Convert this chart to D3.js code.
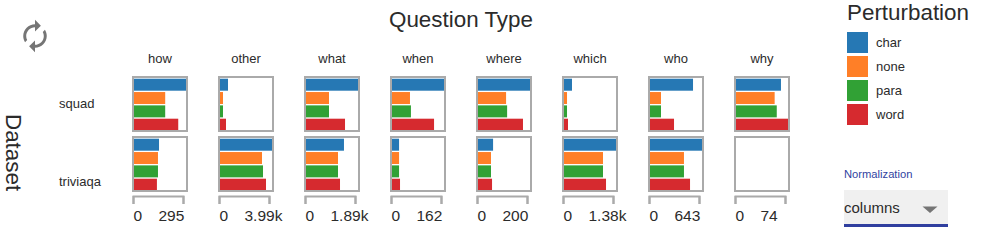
<!DOCTYPE html>
<html>
<head>
<meta charset="utf-8">
<script src="https://cdn.jsdelivr.net/npm/d3@7"></script>
<style>
  html, body { margin: 0; padding: 0; background: #fff; }
  svg { display: block; }
  text { font-family: "Liberation Sans", Arial, sans-serif; fill: #2b2b2b; }
  .axis path, .axis line { stroke: #aaa; stroke-width: 2; fill: none; }
</style>
</head>
<body>
<svg id="chart" width="987" height="240"></svg>
<script>
const questionTypes = ['how', 'other', 'what', 'when', 'where', 'which', 'who', 'why'];
const perturbations = ['char', 'none', 'para', 'word'];
const datasets = ['squad', 'triviaqa'];

// max of each column, and how the tick under it is written
const columnMax = [295, 3990, 1890, 162, 200, 1380, 643, 74];
const tickLabels = ['295', '3.99k', '1.89k', '162', '200', '1.38k', '643', '74'];

// one row per question type, in perturbation order
const squadValues = [
    [295, 177, 177, 251],
    [614, 230, 230, 460],
    [1890, 836, 836, 1418],
    [162, 56, 59, 131],
    [200, 108, 112, 173],
    [212, 80, 80, 106],
    [532, 136, 136, 297],
    [64, 55, 58, 74]
];
const triviaqaValues = [
    [142, 136, 136, 130],
    [3990, 3223, 3300, 3530],
    [1380, 1163, 1163, 1236],
    [22, 22, 22, 25],
    [58, 50, 50, 54],
    [1380, 1035, 1035, 1115],
    [643, 420, 420, 495],
    [0, 0, 0, 0]
];
const valuesByDataset = [squadValues, triviaqaValues];

const svg = d3.select('#chart');
const color = d3.scaleOrdinal(perturbations, ['#2678b4', '#ff7f27', '#31a135', '#d62a2f']);

const colX = d3.scalePoint(questionTypes, [132, 734]);
const rowY = d3.scalePoint(datasets, [76, 136]);
const barY = d3.scaleBand(perturbations, [2.7, 54.7]).paddingInner(0.1);

// Titles
svg.append('text')
    .attr('x', 461).attr('y', 27)
    .attr('text-anchor', 'middle')
    .style('font-size', '22.4px')
    .text('Question Type');

svg.append('text')
    .attr('transform', 'translate(6,114) rotate(90)')
    .style('font-size', '22.4px')
    .text('Dataset');

// Reload icon
svg.append('path')
    .attr('transform', 'translate(35,36) scale(1.47) translate(-12,-12)')
    .attr('fill', '#757575')
    .attr('d', 'M12 6v3l4-4-4-4v3c-4.42 0-8 3.58-8 8 0 1.57.46 3.03 1.24 4.26L6.7 14.8c-.45-.83-.7-1.79-.7-2.8 0-3.31 2.69-6 6-6zm6.76 1.74L17.3 9.2c.44.84.7 1.79.7 2.8 0 3.31-2.69 6-6 6v-3l-4 4 4 4v-3c4.42 0 8-3.58 8-8 0-1.57-.46-3.03-1.24-4.26z');

// Row labels
const rowLabelY = { squad: 108, triviaqa: 186 };
svg.selectAll('.row-label')
    .data(datasets)
    .join('text')
    .attr('class', 'row-label')
    .attr('x', 59)
    .attr('y', d => rowLabelY[d])
    .style('font-size', '13px')
    .text(d => d);

// Columns
questionTypes.forEach((type, i) => {
    const x0 = colX(type);
    const col = svg.append('g').attr('transform', `translate(${x0},0)`);

    col.append('text')
        .attr('x', 28).attr('y', 63)
        .attr('text-anchor', 'middle')
        .style('font-size', '13px')
        .text(type);

    const x = d3.scaleLinear([0, columnMax[i]], [0, 52]);

    datasets.forEach((dataset, r) => {
        const panel = col.append('g').attr('transform', `translate(0,${rowY(dataset)})`);

        panel.selectAll('.bar')
            .data(valuesByDataset[r][i].map((v, k) => ({ key: perturbations[k], value: v })))
            .join('rect')
            .attr('class', 'bar')
            .attr('x', 2)
            .attr('y', d => barY(d.key))
            .attr('width', d => x(d.value))
            .attr('height', barY.bandwidth())
            .attr('fill', d => color(d.key));

        panel.append('rect')
            .attr('x', 1).attr('y', 1)
            .attr('width', 54).attr('height', 54)
            .attr('fill', 'none')
            .attr('stroke', '#aaa')
            .attr('stroke-width', 2);
    });

    // Axis bracket under the column, the labels are placed by hand
    const axisScale = d3.scaleLinear([0, columnMax[i]], [0, 50]);
    const axis = col.append('g')
        .attr('class', 'axis')
        .attr('transform', 'translate(1,196)')
        .call(d3.axisBottom(axisScale)
            .tickValues([0, columnMax[i]])
            .tickSize(8)
            .tickFormat((d, k) => k === 0 ? '0' : tickLabels[i]));

    axis.selectAll('text')
        .attr('text-anchor', 'start')
        .attr('x', (d, k) => k === 0 ? 0 : -25)
        .attr('y', 14)
        .attr('dy', '0.71em')
        .style('font-size', '15.5px')
        .style('font-family', '"Liberation Sans", Arial, sans-serif');
});

// Legend
svg.append('text')
    .attr('x', 847).attr('y', 20)
    .style('font-size', '22.4px')
    .text('Perturbation');

const legendY = d3.scalePoint(perturbations, [32, 104]);
const legend = svg.selectAll('.legend')
    .data(perturbations)
    .join('g')
    .attr('class', 'legend')
    .attr('transform', d => `translate(847,${legendY(d)})`);

legend.append('rect')
    .attr('width', 21).attr('height', 21)
    .attr('fill', d => color(d));

legend.append('text')
    .attr('x', 29).attr('y', 15)
    .style('font-size', '13px')
    .text(d => d);

// Normalization select
svg.append('text')
    .attr('x', 844).attr('y', 178)
    .style('font-size', '11.2px')
    .style('fill', '#303f9f')
    .text('Normalization');

svg.append('rect')
    .attr('x', 844).attr('y', 190)
    .attr('width', 104).attr('height', 34)
    .attr('fill', '#f0f0f0');

svg.append('rect')
    .attr('x', 844).attr('y', 224)
    .attr('width', 104).attr('height', 3)
    .attr('fill', '#303f9f');

svg.append('text')
    .attr('x', 844).attr('y', 213)
    .style('font-size', '15px')
    .text('columns');

svg.append('path')
    .attr('d', 'M922.5,206.5H937.5L930,213Z')
    .attr('fill', '#757575');
</script>
</body>
</html>
